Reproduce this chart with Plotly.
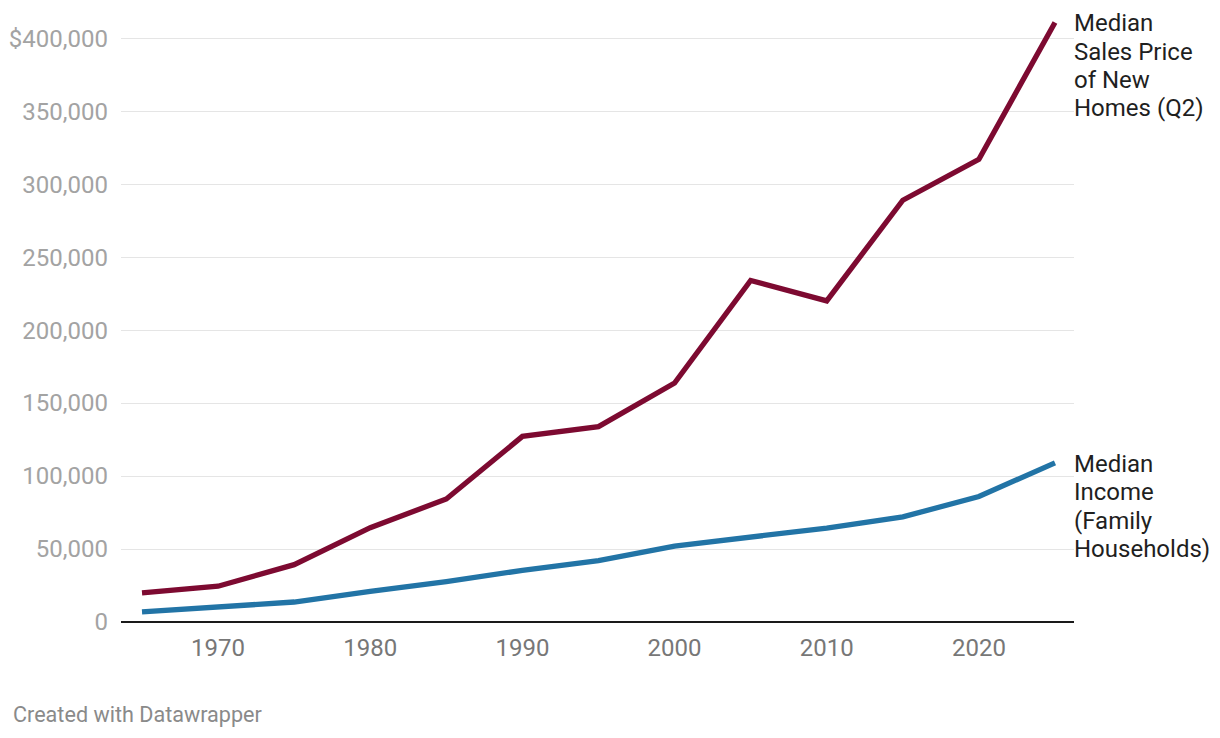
import plotly.graph_objects as go

years = [1965, 1970, 1975, 1980, 1985, 1990, 1995, 2000, 2005, 2010, 2015, 2020, 2025]
home_price = [20000, 24500, 39300, 64600, 84300, 127200, 133900, 163700, 234000, 220000, 289000, 317000, 410800]
family_income = [6900, 9900, 13700, 21000, 27700, 35400, 42000, 52000, 58000, 64400, 72000, 86000, 109000]

y_tickvals = [0, 50000, 100000, 150000, 200000, 250000, 300000, 350000, 400000]
y_ticktext = ["0", "50,000", "100,000", "150,000", "200,000", "250,000", "300,000", "350,000", "$400,000"]
x_tickvals = [1970, 1980, 1990, 2000, 2010, 2020]

price_label = ["Median", "Sales Price", "of New", "Homes (Q2)"]
income_label = ["Median", "Income", "(Family", "Households)"]

RED = "#7d0a31"
BLUE = "#2274a6"
FONT = "Roboto"

fig = go.Figure()
fig.add_trace(go.Scatter(x=years, y=home_price, mode="lines",
                         line=dict(color=RED, width=5.3), name="price"))
fig.add_trace(go.Scatter(x=years, y=family_income, mode="lines",
                         line=dict(color=BLUE, width=5.3), name="income"))

fig.update_layout(
    width=1212, height=730,
    margin=dict(l=113, r=146, t=1, b=116),
    paper_bgcolor="white", plot_bgcolor="white",
    showlegend=False,
    font=dict(family=FONT),
    xaxis=dict(range=[1963.62, 2026.25], tickvals=x_tickvals, showgrid=False,
               zeroline=False, showline=False,
               tickfont=dict(family=FONT, size=24, color="#777777"),
               ticks="", ticklabelstandoff=9, fixedrange=True),
    yaxis=dict(range=[0, 420000], tickvals=y_tickvals, ticktext=y_ticktext,
               showgrid=True, gridcolor="#e5e5e5", gridwidth=1.3,
               zeroline=True, zerolinecolor="#1a1a1a", zerolinewidth=2.2,
               showline=False,
               tickfont=dict(family=FONT, size=24, color="#a3a3a3"),
               ticks="", ticklabelstandoff=12, fixedrange=True),
)

for lines, series in ((price_label, home_price), (income_label, family_income)):
    for i, line in enumerate(lines):
        fig.add_annotation(x=1, xref="paper", y=series[-1], yref="y",
                           text=line, showarrow=False, xanchor="left", yanchor="middle",
                           align="left", yshift=-1 - 28.3 * i, xshift=-2,
                           font=dict(family=FONT, size=24, color="#1f1f1f"))

fig.add_annotation(x=-0.1154, xref="paper", y=-0.1517, yref="paper",
                   text="Created with Datawrapper", showarrow=False,
                   xanchor="left", yanchor="middle",
                   font=dict(family=FONT, size=21.6, color="#8a8a8a"))

fig.write_html("out.html")
